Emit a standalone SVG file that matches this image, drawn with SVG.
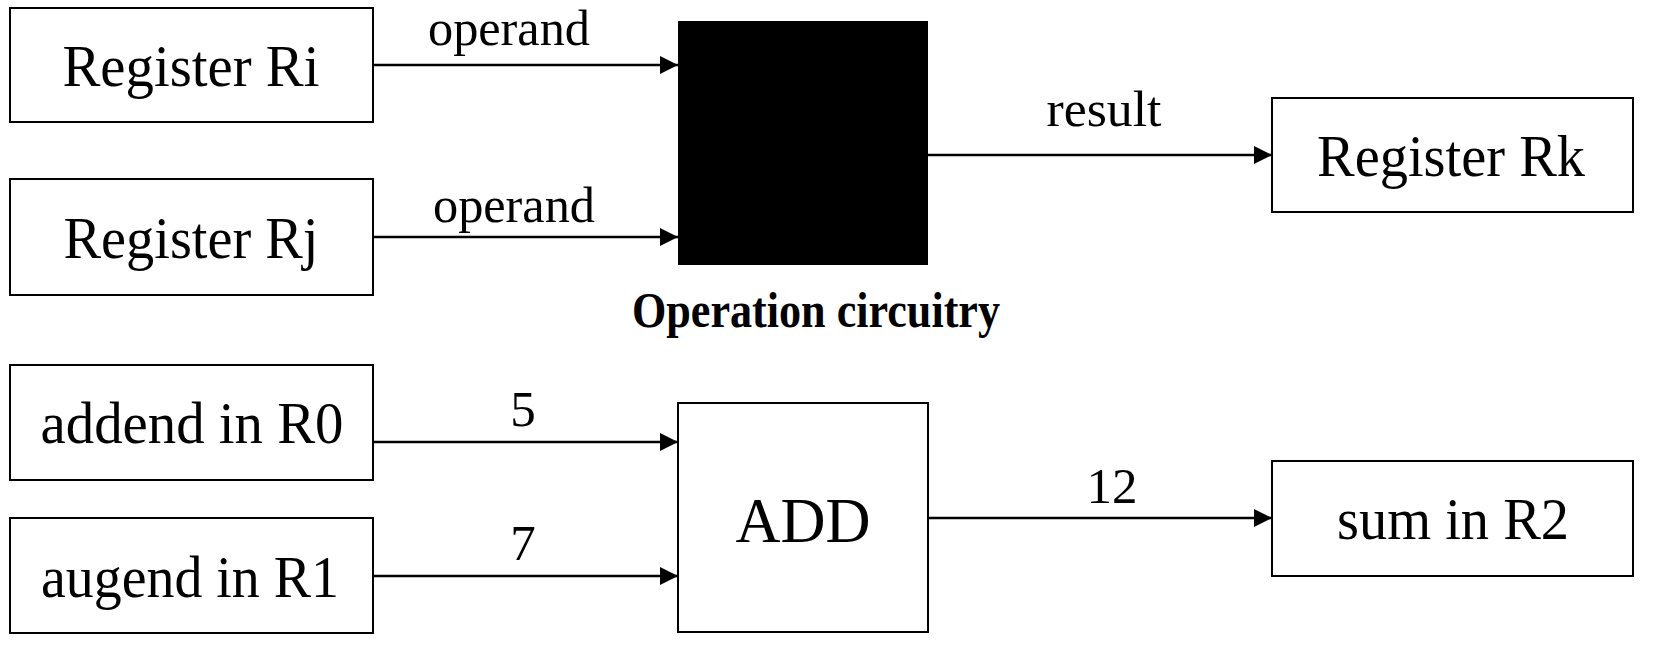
<svg xmlns="http://www.w3.org/2000/svg" width="1655" height="649" viewBox="0 0 1655 649">
<style>
  .box { fill: #fff; stroke: #000; stroke-width: 2; }
  .lbl { font-family: "Liberation Serif", "Times New Roman", serif; font-size: 60px; fill: #000; text-anchor: middle; }
  .edge { font-family: "Liberation Serif", "Times New Roman", serif; font-size: 51px; fill: #000; text-anchor: middle; }
  .cap { font-family: "Liberation Serif", "Times New Roman", serif; font-size: 51px; font-weight: bold; fill: #000; text-anchor: middle; }
  .conn { stroke: #000; stroke-width: 2.5; fill: none; marker-end: url(#arrow); }
</style>
<defs>
  <marker id="arrow" markerUnits="userSpaceOnUse" markerWidth="18" markerHeight="18" refX="18" refY="9" orient="auto">
    <path d="M0,0 L18,9 L0,18 Z" fill="#000"/>
  </marker>
</defs>
<rect x="0" y="0" width="1655" height="649" fill="#fff"/>

<g id="regRi">
  <rect class="box" x="10" y="8" width="363" height="114"/>
  <text class="lbl" x="191" y="86" textLength="257" lengthAdjust="spacingAndGlyphs">Register Ri</text>
</g>
<g id="regRj">
  <rect class="box" x="10" y="179" width="363" height="116"/>
  <text class="lbl" x="191" y="258" textLength="255" lengthAdjust="spacingAndGlyphs">Register Rj</text>
</g>
<g id="opCircuit">
  <rect x="678" y="21" width="250" height="244" fill="#000"/>
  <text class="cap" x="816" y="327" textLength="368" lengthAdjust="spacingAndGlyphs">Operation circuitry</text>
</g>
<g id="regRk">
  <rect class="box" x="1272" y="98" width="361" height="114"/>
  <text class="lbl" x="1451" y="176" textLength="268" lengthAdjust="spacingAndGlyphs">Register Rk</text>
</g>
<g id="addendR0">
  <rect class="box" x="10" y="365" width="363" height="115"/>
  <text class="lbl" x="192" y="443" textLength="303" lengthAdjust="spacingAndGlyphs">addend in R0</text>
</g>
<g id="augendR1">
  <rect class="box" x="10" y="518" width="363" height="115"/>
  <text class="lbl" x="190" y="597" textLength="298" lengthAdjust="spacingAndGlyphs">augend in R1</text>
</g>
<g id="add">
  <rect class="box" x="678" y="403" width="250" height="229"/>
  <text class="lbl" x="803" y="542" style="font-size:64px" textLength="135" lengthAdjust="spacingAndGlyphs">ADD</text>
</g>
<g id="sumR2">
  <rect class="box" x="1272" y="461" width="361" height="115"/>
  <text class="lbl" x="1453" y="539" textLength="232" lengthAdjust="spacingAndGlyphs">sum in R2</text>
</g>

<g id="connectors">
  <line class="conn" x1="373" y1="65" x2="678" y2="65"/>
  <text class="edge" x="509" y="45" textLength="162" lengthAdjust="spacingAndGlyphs">operand</text>
  <line class="conn" x1="373" y1="237" x2="678" y2="237"/>
  <text class="edge" x="514" y="222" textLength="162" lengthAdjust="spacingAndGlyphs">operand</text>
  <line class="conn" x1="928" y1="155" x2="1272" y2="155"/>
  <text class="edge" x="1104" y="126" textLength="115" lengthAdjust="spacingAndGlyphs">result</text>
  <line class="conn" x1="373" y1="442" x2="678" y2="442"/>
  <text class="edge" x="523" y="426">5</text>
  <line class="conn" x1="373" y1="576" x2="678" y2="576"/>
  <text class="edge" x="523" y="560">7</text>
  <line class="conn" x1="928" y1="518" x2="1272" y2="518"/>
  <text class="edge" x="1112" y="503">12</text>
</g>
</svg>
